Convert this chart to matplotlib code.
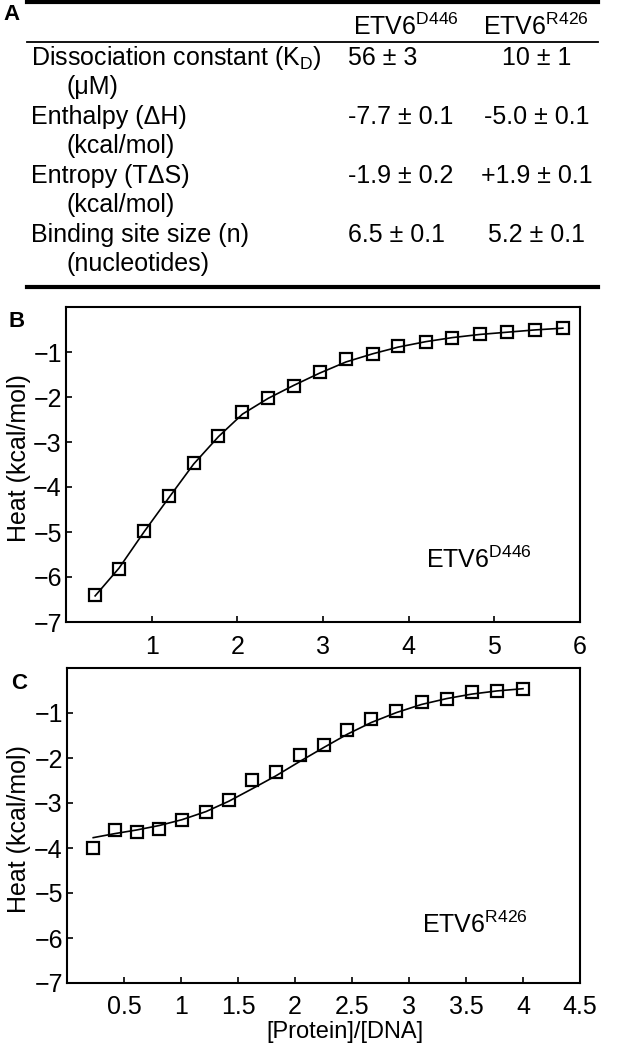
import matplotlib.pyplot as plt
from matplotlib.lines import Line2D

plt.rcParams['font.family'] = 'Liberation Sans'
plt.rcParams['mathtext.fontset'] = 'custom'
plt.rcParams['mathtext.rm'] = 'Liberation Sans'
plt.rcParams['mathtext.default'] = 'regular'

# ---- data ----
# panel A table
row_labels = ['Dissociation constant (K$_{D}$)', 'Enthalpy (ΔH)', 'Entropy (TΔS)', 'Binding site size (n)']
row_units = ['(μM)', '(kcal/mol)', '(kcal/mol)', '(nucleotides)']
col_headers = ['ETV6$^{D446}$', 'ETV6$^{R426}$']
d446_vals = ['56 ± 3', '-7.7 ± 0.1', '-1.9 ± 0.2', '6.5 ± 0.1']
r426_vals = ['10 ± 1', '-5.0 ± 0.1', '+1.9 ± 0.1', '5.2 ± 0.1']

# panel B, ETV6 D446
b_x = [0.34, 0.62, 0.91, 1.20, 1.49, 1.78, 2.06, 2.36, 2.66, 2.96, 3.27, 3.58, 3.88, 4.20, 4.51, 4.83, 5.15, 5.47, 5.80]
b_heat = [-6.41, -5.82, -4.97, -4.21, -3.46, -2.86, -2.34, -2.02, -1.76, -1.45, -1.15, -1.04, -0.87, -0.78, -0.69, -0.60, -0.55, -0.52, -0.46]
b_fit = [-6.42, -5.80, -5.00, -4.24, -3.49, -2.88, -2.38, -2.03, -1.74, -1.47, -1.22, -1.04, -0.89, -0.77, -0.68, -0.61, -0.56, -0.51, -0.47]

# panel C, ETV6 R426
c_x = [0.23, 0.42, 0.61, 0.81, 1.01, 1.22, 1.42, 1.62, 1.83, 2.04, 2.25, 2.46, 2.67, 2.89, 3.11, 3.33, 3.55, 3.77, 4.00]
c_heat = [-4.01, -3.59, -3.64, -3.58, -3.38, -3.19, -2.93, -2.49, -2.31, -1.93, -1.72, -1.38, -1.13, -0.95, -0.75, -0.69, -0.53, -0.51, -0.47]
c_fit = [-3.77, -3.68, -3.60, -3.50, -3.37, -3.19, -2.96, -2.69, -2.40, -2.08, -1.77, -1.47, -1.21, -0.99, -0.81, -0.68, -0.58, -0.51, -0.46]

b_xticks = [1, 2, 3, 4, 5, 6]
c_xticks = [0.5, 1, 1.5, 2, 2.5, 3, 3.5, 4, 4.5]
c_xticklabels = ['0.5', '1', '1.5', '2', '2.5', '3', '3.5', '4', '4.5']
yticks = [-7, -6, -5, -4, -3, -2, -1]

W, H = 627, 1048
fs = 18

fig = plt.figure(figsize=(W / 100, H / 100), dpi=100)


def fx(x):
    return x / W


def fy(y):
    return 1 - y / H


# ---- panel A: table ----
fig.text(fx(3), fy(20), 'A', fontsize=16, fontweight='bold', va='baseline')
fig.add_artist(Line2D([fx(27), fx(598)], [fy(2), fy(2)], lw=3, color='black'))
fig.add_artist(Line2D([fx(27), fx(598)], [fy(42), fy(42)], lw=1.3, color='black'))
fig.add_artist(Line2D([fx(27), fx(598)], [fy(287), fy(287)], lw=3, color='black'))

fig.text(fx(406), fy(35), col_headers[0], fontsize=fs, ha='center', va='baseline')
fig.text(fx(536), fy(35), col_headers[1], fontsize=fs, ha='center', va='baseline')

for i in range(len(row_labels)):
    base = 65 + i * 59
    fig.text(fx(31), fy(base), row_labels[i], fontsize=fs, va='baseline')
    fig.text(fx(66), fy(base + 29), row_units[i], fontsize=fs, va='baseline')
    fig.text(fx(348), fy(base), d446_vals[i], fontsize=fs, va='baseline')
    fig.text(fx(537), fy(base), r426_vals[i], fontsize=fs, ha='center', va='baseline')

# ---- panels B and C ----
axB = fig.add_axes([66 / W, 1 - 622 / H, 514 / W, 315 / H])
axC = fig.add_axes([67 / W, 1 - 983 / H, 513 / W, 315 / H])

for ax, x, heat, fit in [(axB, b_x, b_heat, b_fit), (axC, c_x, c_heat, c_fit)]:
    ax.plot(x, fit, color='black', lw=1.2)
    ax.plot(x, heat, 's', mfc='none', mec='black', ms=8, mew=1.6)
    ax.set_ylim(-7, 0)
    ax.set_yticks(yticks)
    for s in ax.spines.values():
        s.set_linewidth(1.5)
    ax.tick_params(direction='in', length=4, width=1.2, labelsize=fs)
    ax.tick_params(axis='x', pad=9)
    ax.tick_params(axis='y', pad=3)

axB.set_xlim(0, 6)
axB.set_xticks(b_xticks)
axC.set_xlim(0, 4.5)
axC.set_xticks(c_xticks)
axC.set_xticklabels(c_xticklabels)

axB.set_ylabel('Heat (kcal/mol)', fontsize=fs)
axB.yaxis.set_label_coords(-0.068, 0.52)
axC.set_ylabel('Heat (kcal/mol)', fontsize=fs)
axC.yaxis.set_label_coords(-0.07, 0.49)
axC.set_xlabel('[Protein]/[DNA]', fontsize=17)
axC.xaxis.set_label_coords(0.542, -0.12)

axB.text(0.70, 0.171, 'ETV6$^{D446}$', transform=axB.transAxes, fontsize=fs, va='baseline')
axC.text(0.692, 0.159, 'ETV6$^{R426}$', transform=axC.transAxes, fontsize=fs, va='baseline')

fig.text(fx(9), fy(327), 'B', fontsize=16, fontweight='bold', va='baseline')
fig.text(fx(11), fy(689), 'C', fontsize=16, fontweight='bold', va='baseline')

plt.savefig('out.png', dpi=100)
